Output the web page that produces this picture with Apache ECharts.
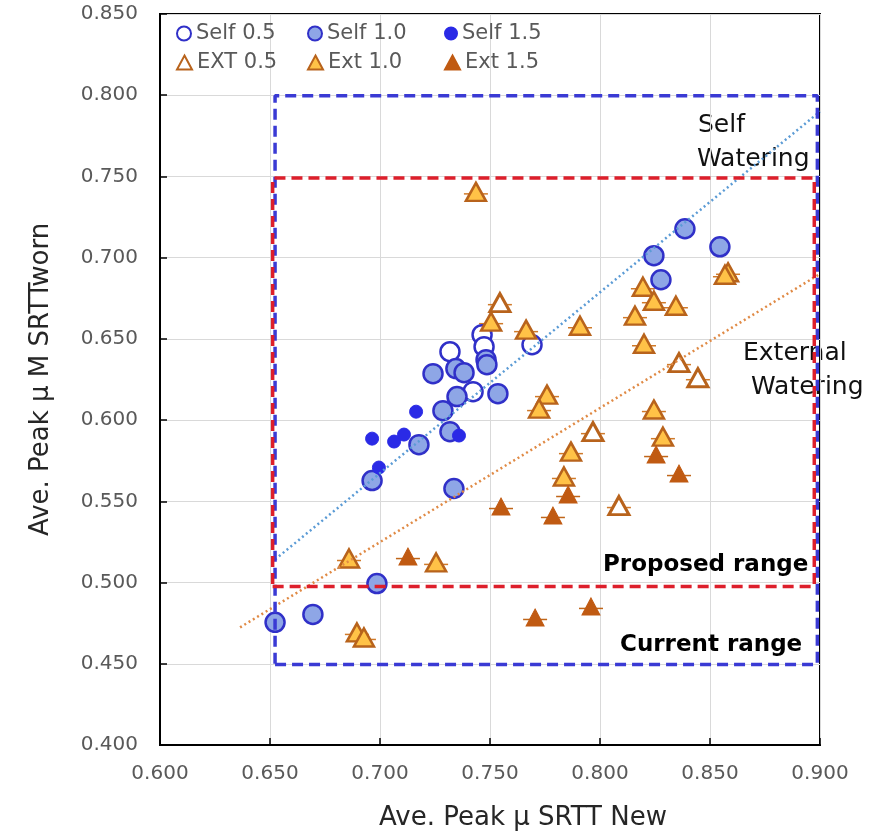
<!DOCTYPE html>
<html>
<head>
<meta charset="utf-8">
<script src="https://cdn.jsdelivr.net/npm/echarts@6/dist/echarts.min.js"></script>
<style>
html,body{margin:0;padding:0;background:#fff;}
#chart{width:886px;height:838px;}
</style>
</head>
<body>
<div id="chart"></div>
<script>
// ---- data ----
const self05 = [[0.7318,0.6421],[0.7464,0.6526],[0.7473,0.6452],[0.7423,0.6175],[0.7691,0.6464]];
const self10 = [[0.7482,0.6372],[0.7486,0.6341],[0.7241,0.6286],[0.7345,0.6317],[0.7382,0.6292],[0.7536,0.6163],[0.7350,0.6145],[0.7286,0.6058],[0.7177,0.5849],[0.7318,0.5929],[0.6964,0.5628],[0.7336,0.5579],[0.6986,0.4994],[0.6523,0.4755],[0.6695,0.4804],[0.8386,0.7178],[0.8245,0.7012],[0.8545,0.7067],[0.8277,0.6864]];
const self15 = [[0.7164,0.6052],[0.6964,0.5886],[0.7064,0.5868],[0.7109,0.5911],[0.7359,0.5905],[0.6995,0.5708]];
const ext05 = [[0.8359,0.6354],[0.8445,0.6261],[0.7968,0.5929],[0.8086,0.5474],[0.7545,0.6723]];
const ext10 = [[0.7436,0.7405],[0.7505,0.6606],[0.7664,0.6557],[0.7909,0.6581],[0.8195,0.6821],[0.8245,0.6735],[0.8345,0.6704],[0.8159,0.6643],[0.8200,0.6470],[0.8582,0.6910],[0.8568,0.6895],[0.7759,0.6157],[0.7723,0.6071],[0.8245,0.6065],[0.7868,0.5806],[0.8286,0.5898],[0.7836,0.5653],[0.6859,0.5148],[0.7255,0.5124],[0.6895,0.4693],[0.6927,0.4662]];
const ext15 = [[0.8255,0.5788],[0.7855,0.5542],[0.8359,0.5671],[0.7550,0.5468],[0.7786,0.5413],[0.7959,0.4853],[0.7705,0.4785],[0.7127,0.5160]];

const trendSelf = [[0.6523,0.5142],[0.9000,0.7900]];
const trendExt  = [[0.6364,0.4724],[0.9000,0.6900]];

const currentRangeX = [0.6523, 0.8988];
const currentRangeY = [0.4496, 0.7996];
const proposedRangeX = [0.6512, 0.8974];
const proposedRangeY = [0.4976, 0.7491];

const xTicks = {min:0.6, max:0.9, step:0.05};
const yTicks = {min:0.4, max:0.85, step:0.05};

const seriesNames = ['Self 0.5','Self 1.0','Self 1.5','EXT 0.5','Ext 1.0','Ext 1.5'];
// ---------------------------------------

function boxPath(xr, yr){
  return [[xr[0],yr[0]],[xr[1],yr[0]],[xr[1],yr[1]],[xr[0],yr[1]],[xr[0],yr[0]]];
}

const FONT = 'DejaVu Sans';
const BLUE_EDGE = '#3030C8';
const ORANGE_EDGE = '#B8631C';

const chart = echarts.init(document.getElementById('chart'), null, {renderer:'canvas'});

function errBarSeries(data, color){
  return {
    type:'custom', silent:true, z:3,
    renderItem: function(params, api){
      const p = api.coord([api.value(0), api.value(1)]);
      return {type:'line', shape:{x1:p[0]-12, y1:p[1]+2, x2:p[0]+12, y2:p[1]+2},
              style:{stroke:color, lineWidth:1.5}};
    },
    data: data
  };
}

const legendPos = [
  {left:176, top:23, w:14, h:14},
  {left:307, top:23, w:14, h:14},
  {left:444, top:23, w:12, h:12},
  {left:176, top:52, w:15, h:14},
  {left:307, top:52, w:15, h:14},
  {left:444, top:52, w:15, h:14}
];

const option = {
  backgroundColor:'#fff',
  animation:false,
  grid:{left:160, right:66, top:14, bottom:93, show:true, borderColor:'#000', borderWidth:2, containLabel:false},
  legend: seriesNames.map((n,i)=>({
    data:[n], left:legendPos[i].left, top:legendPos[i].top,
    itemWidth:legendPos[i].w, itemHeight:legendPos[i].h, itemGap:0, padding:0,
    selectedMode:false,
    textStyle:{fontFamily:FONT, fontSize:21, color:'#595959'}
  })),
  xAxis:{
    type:'value', min:xTicks.min, max:xTicks.max, interval:xTicks.step,
    name:'Ave. Peak μ SRTT New', nameLocation:'middle', nameGap:60,
    nameTextStyle:{fontFamily:FONT, fontSize:26, color:'#262626', padding:[0,0,0,66]},
    axisLine:{show:true, lineStyle:{color:'#000', width:2}},
    axisTick:{show:true, inside:true, length:7, lineStyle:{color:'#000', width:1.5}},
    splitLine:{show:true, lineStyle:{color:'#d9d9d9', width:1}},
    axisLabel:{formatter:v=>v.toFixed(3), fontFamily:FONT, fontSize:20, color:'#595959', margin:19}
  },
  yAxis:{
    type:'value', min:yTicks.min, max:yTicks.max, interval:yTicks.step,
    name:'Ave. Peak μ M SRTTworn', nameLocation:'middle', nameGap:106,
    nameTextStyle:{fontFamily:FONT, fontSize:26, color:'#262626'},
    axisLine:{show:true, lineStyle:{color:'#000', width:2}},
    axisTick:{show:true, inside:true, length:7, lineStyle:{color:'#000', width:1.5}},
    splitLine:{show:true, lineStyle:{color:'#d9d9d9', width:1}},
    axisLabel:{formatter:v=>v.toFixed(3), fontFamily:FONT, fontSize:20, color:'#595959', margin:22}
  },
  series:[
    {name:'Self 0.5', type:'scatter', data:self05, symbol:'circle', symbolSize:19, z:4,
     itemStyle:{color:'#ffffff', borderColor:BLUE_EDGE, borderWidth:2.5, opacity:1}},
    {name:'Self 1.0', type:'scatter', data:self10, symbol:'circle', symbolSize:19, z:4,
     itemStyle:{color:'#8EA6E6', borderColor:BLUE_EDGE, borderWidth:2.5, opacity:1}},
    {name:'Self 1.5', type:'scatter', data:self15, symbol:'circle', symbolSize:13, z:4,
     itemStyle:{color:'#2A2AE6', borderColor:'#2A2AE6', borderWidth:1, opacity:1}},
    errBarSeries(ext05.concat(ext10), '#D07A2A'),
    errBarSeries(ext15, '#C0661A'),
    {name:'EXT 0.5', type:'scatter', data:ext05, symbol:'triangle', symbolSize:[20,18], z:4,
     itemStyle:{color:'#ffffff', borderColor:ORANGE_EDGE, borderWidth:3, opacity:1}},
    {name:'Ext 1.0', type:'scatter', data:ext10, symbol:'triangle', symbolSize:[20,18], z:4,
     itemStyle:{color:'#FFC247', borderColor:ORANGE_EDGE, borderWidth:2.5, opacity:1}},
    {name:'Ext 1.5', type:'scatter', data:ext15, symbol:'triangle', symbolSize:[18,17], z:4,
     itemStyle:{color:'#C05A12', borderColor:'#C05A12', borderWidth:1, opacity:1}},
    {type:'line', data:trendSelf, symbol:'none', silent:true, z:5, clip:true,
     lineStyle:{color:'#5B9BD5', width:2.5, type:[2,3]}},
    {type:'line', data:trendExt, symbol:'none', silent:true, z:5, clip:true,
     lineStyle:{color:'#E08A45', width:2.5, type:[2,3]}},
    {type:'line', data:boxPath(currentRangeX, currentRangeY), symbol:'none', silent:true, z:6, clip:false,
     lineStyle:{color:'#3A3AD4', width:3.5, type:[11,6]}},
    {type:'line', data:boxPath(proposedRangeX, proposedRangeY), symbol:'none', silent:true, z:7, clip:false,
     lineStyle:{color:'#DD1F2B', width:3.5, type:[11,6]}}
  ],
  graphic:[
    {type:'text', left:698, top:113, style:{text:'Self', font:'25px "DejaVu Sans"', fill:'#111'}},
    {type:'text', left:697, top:147, style:{text:'Watering', font:'25px "DejaVu Sans"', fill:'#111'}},
    {type:'text', left:743, top:341, style:{text:'External', font:'25px "DejaVu Sans"', fill:'#111'}},
    {type:'text', left:751, top:375, style:{text:'Watering', font:'25px "DejaVu Sans"', fill:'#111'}},
    {type:'text', left:603, top:554, style:{text:'Proposed range', font:'bold 23px "DejaVu Sans"', fill:'#000'}, z:10},
    {type:'text', left:620, top:634, style:{text:'Current range', font:'bold 23px "DejaVu Sans"', fill:'#000'}, z:10}
  ]
};
chart.setOption(option);
</script>
</body>
</html>
